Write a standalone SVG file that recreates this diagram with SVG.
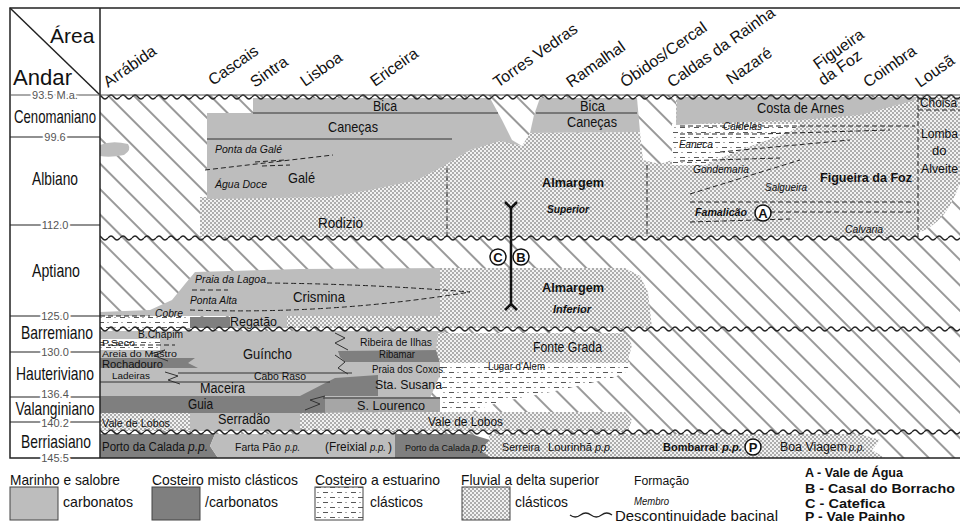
<svg xmlns="http://www.w3.org/2000/svg" width="960" height="523" viewBox="0 0 960 523">
<style>
text{font-family:"Liberation Sans",Arial,sans-serif;fill:#111}
.i{font-style:italic}
.b{font-weight:bold}
.m{text-anchor:middle}
.num{font-size:11px;fill:#555;stroke:#fff;stroke-width:4px;paint-order:stroke;text-anchor:middle}
.stg{font-size:19px;text-anchor:middle}
.area{font-size:16px}
.ln{stroke:#333;stroke-width:1;fill:none}
.dsh{stroke:#222;stroke-width:1;fill:none;stroke-dasharray:5 3}
.lg{fill:#bdbdbd}
.dg{fill:#7f7f7f}
.mg{fill:#a6a6a6}
.dt{fill:url(#dots)}
.es{fill:url(#estu)}
.circ{fill:#fff;stroke:#111;stroke-width:1.5}
</style>
<defs>
<pattern id="hatch" patternUnits="userSpaceOnUse" width="18" height="18" patternTransform="rotate(-45)">
<rect width="18" height="18" fill="#fff"/>
<line x1="9" y1="-1" x2="9" y2="19" stroke="#333" stroke-width="1"/>
</pattern>
<pattern id="dots" patternUnits="userSpaceOnUse" width="4" height="4">
<rect width="4" height="4" fill="#f2f2f2"/>
<circle cx="1" cy="1" r="0.8" fill="#555"/>
<circle cx="3" cy="3" r="0.8" fill="#555"/>
</pattern>
<pattern id="estu" patternUnits="userSpaceOnUse" width="14" height="10">
<rect width="14" height="10" fill="#fff"/>
<path d="M1,2.5h5M8,7.5h5" stroke="#444" stroke-width="0.9"/>
<circle cx="10" cy="2.5" r="0.6" fill="#444"/>
<circle cx="3" cy="7.5" r="0.6" fill="#444"/>
</pattern>
<pattern id="wave" patternUnits="userSpaceOnUse" x="0" y="-4" width="12" height="8">
<path d="M0,4 Q3,0 6,4 T12,4" fill="none" stroke="#222" stroke-width="1.3"/>
</pattern>
<rect id="wv" x="100" y="-4" width="860" height="8" fill="url(#wave)"/>
</defs>

<rect width="960" height="523" fill="#fff"/>

<g id="panel-bg">
<rect x="100" y="95" width="860" height="363" fill="url(#hatch)"/>
</g>

<g id="albian-cenomanian">
<polygon class="dt" points="200,237 200,197 330,196 420,178 470,150 500,140 522,146 530,133 640,132 643,160 660,164 672,160 672,125 676,125 676,97 918,97 918,237"/>
<polygon class="es" points="672,124 800,124 790,132 740,150 705,165 672,165"/>
<path class="dt" d="M918,97 H960 V182 Q948,222 918,233 Z"/>
<polygon class="lg" points="253,98 490,98 502,120 512,140 522,146 500,141 470,150 440,168 417,180 370,190 328,197 207,199 207,113 253,113"/>
<path class="lg" d="M100,145 Q112,140 128,144 Q132,150 124,155 Q110,158 100,156Z"/>
<polygon class="lg" points="540,98 637,98 640,132 530,133 534,115"/>
<polygon class="lg" points="677,97 916,97 916,100 890,107 860,115 800,120 740,122 676,125"/>
<path class="ln" d="M253,113 H498 M536,113 H637 M207,139 H452"/>
<path class="dsh" d="M447,168 V237 M647,165 V237 M918,97 V237 M918,110 H960"/>
<path class="dsh" d="M205,170 L333,155 M255,162 L285,160 M262,166 L290,165"/>
<path class="dsh" d="M680,126 H915 M680,134 L760,134 L890,130 M720,152 L850,140 M680,161 L780,158 M690,194 L800,160 M690,202 H915 M770,212 H915 M690,222 L790,219"/>
<text x="373" y="111" font-size="14" textLength="24" lengthAdjust="spacingAndGlyphs">Bica</text>
<text x="328" y="132" font-size="15" textLength="50" lengthAdjust="spacingAndGlyphs">Caneças</text>
<text x="288" y="183" font-size="15" textLength="27" lengthAdjust="spacingAndGlyphs">Galé</text>
<text x="318" y="228" font-size="15" textLength="45" lengthAdjust="spacingAndGlyphs">Rodizio</text>
<text x="580" y="111" font-size="14" textLength="25" lengthAdjust="spacingAndGlyphs">Bica</text>
<text x="567" y="127" font-size="14" textLength="50" lengthAdjust="spacingAndGlyphs">Caneças</text>
<text x="757" y="113" font-size="14" textLength="87" lengthAdjust="spacingAndGlyphs">Costa de Arnes</text>
<text x="542" y="187" class="b" font-size="13.5" textLength="62" lengthAdjust="spacingAndGlyphs">Almargem</text>
<text x="547" y="213" class="b i" font-size="10.5" textLength="42" lengthAdjust="spacingAndGlyphs">Superior</text>
<text x="820" y="182" class="b" font-size="13" textLength="92" lengthAdjust="spacingAndGlyphs">Figueira da Foz</text>
<text x="215" y="153" class="i" font-size="11" textLength="67" lengthAdjust="spacingAndGlyphs">Ponta da Galé</text>
<text x="215" y="188" class="i" font-size="11" textLength="52" lengthAdjust="spacingAndGlyphs">Água Doce</text>
<text x="723" y="130" class="i" font-size="10.5" textLength="39" lengthAdjust="spacingAndGlyphs">Caldelas</text>
<text x="679" y="148" class="i" font-size="10.5" textLength="34" lengthAdjust="spacingAndGlyphs">Faneca</text>
<text x="693" y="173" class="i" font-size="10.5" textLength="56" lengthAdjust="spacingAndGlyphs">Gondemaria</text>
<text x="765" y="191" class="i" font-size="10.5" textLength="42" lengthAdjust="spacingAndGlyphs">Salgueira</text>
<text x="695" y="216" class="b i" font-size="10.5" textLength="52" lengthAdjust="spacingAndGlyphs">Famalicão</text>
<text x="845" y="233" class="i" font-size="10.5" textLength="38" lengthAdjust="spacingAndGlyphs">Calvaria</text>
<circle class="circ" cx="763" cy="213" r="8"/>
<text x="763" y="218" class="b m" font-size="13">A</text>
<text x="920" y="107" font-size="12" textLength="37" lengthAdjust="spacingAndGlyphs">Choisa</text>
<text x="921" y="138" font-size="12" textLength="37" lengthAdjust="spacingAndGlyphs">Lomba</text>
<text x="932" y="155" font-size="13">do</text>
<text x="921" y="173" font-size="12.5" textLength="37" lengthAdjust="spacingAndGlyphs">Alveite</text>
</g>

<g id="aptian">
<polygon class="lg" points="185,284 195,272 300,269 445,268 445,316 100,316 100,312 150,310 172,300"/>
<polygon class="dt" points="440,268 625,268 640,276 648,292 652,328 287,328 287,316 440,316"/>
<rect class="es" x="100" y="316" width="90" height="12"/>
<rect class="dg" x="190" y="317" width="40" height="11"/>
<rect class="lg" x="230" y="316" width="57" height="12"/>
<path class="dsh" d="M267,283 Q370,284 470,292 M190,310 Q330,315 470,292 M192,290 H228 M100,316 H150"/>
<text x="195" y="283" class="i" font-size="11" textLength="71" lengthAdjust="spacingAndGlyphs">Praia da Lagoa</text>
<text x="190" y="304" class="i" font-size="11" textLength="47" lengthAdjust="spacingAndGlyphs">Ponta Alta</text>
<text x="155" y="317" class="i" font-size="11" textLength="28" lengthAdjust="spacingAndGlyphs">Cobre</text>
<text x="293" y="302" font-size="15" textLength="52" lengthAdjust="spacingAndGlyphs">Crismina</text>
<text x="542" y="292" class="b" font-size="13.5" textLength="62" lengthAdjust="spacingAndGlyphs">Almargem</text>
<text x="553" y="313" class="b i" font-size="11" textLength="38" lengthAdjust="spacingAndGlyphs">Inferior</text>
<text x="230" y="326" font-size="13.5" textLength="47" lengthAdjust="spacingAndGlyphs">Regatão</text>
</g>

<g id="section">
<path d="M511,206 V306" stroke="#111" stroke-width="2.5"/>
<path d="M505,202 L511,208 L517,202 M505,310 L511,304 L517,310" stroke="#111" stroke-width="2.5" fill="none"/>
<circle class="circ" cx="498" cy="257" r="8"/>
<text x="498" y="262" class="b m" font-size="13">C</text>
<circle class="circ" cx="521" cy="257" r="8"/>
<text x="521" y="262" class="b m" font-size="13">B</text>
</g>

<g id="barremian-berriasian">
<polygon class="lg" points="100,331 445,331 440,350 440,375 430,398 100,398"/>
<rect class="es" x="100" y="339" width="60" height="11"/>
<polygon class="dg" points="100,358 195,358 188,363 198,368 100,368"/>
<polygon class="dg" points="338,351 440,350 440,362 345,362 340,357"/>
<polygon class="dg" points="300,396 335,378 378,375 378,396"/>
<polygon class="dt" points="438,333 625,333 632,345 628,360 630,363 440,363 436,350"/>
<polygon class="es" points="440,363 630,363 626,372 612,378 560,390 500,402 470,412 440,412"/>
<polygon class="dg" points="100,396 325,396 325,413 100,413"/>
<polygon class="mg" points="325,397 440,397 440,412 325,413"/>
<rect class="dt" x="100" y="413" width="90" height="18"/>
<rect class="lg" x="190" y="413" width="110" height="18"/>
<polygon class="dt" points="300,413 470,412 625,412 632,420 628,431 300,431"/>
<polygon class="dg" points="100,434 215,434 210,446 218,458 100,458"/>
<polygon class="lg" points="215,434 395,434 395,458 218,458 210,446"/>
<polygon class="dg" points="395,434 470,434 490,440 480,450 492,458 395,458"/>
<polygon class="dt" points="488,434 860,434 880,440 872,450 885,458 492,458 480,450 490,440"/>
<path class="ln" d="M178,373 H352 M100,382 H330 M323,398 H440"/>
<path class="ln" d="M150,354 L165,350 L155,356 L168,361 M165,372 L178,376 L168,380 L180,384 M335,333 L345,338 L335,343 L348,350 M335,355 L345,362 L338,368 L348,374 M305,410 L320,404 L310,400 L325,396"/>
<path class="dsh" d="M100,345 H175"/>
<text x="138" y="338" font-size="10.5" textLength="45" lengthAdjust="spacingAndGlyphs">B.Chapim</text>
<text x="102" y="346" font-size="9.5" textLength="33" lengthAdjust="spacingAndGlyphs">P.Seco</text>
<text x="102" y="357" font-size="9.5" textLength="75" lengthAdjust="spacingAndGlyphs">Areia do Mastro</text>
<text x="102" y="368" font-size="10" textLength="61" lengthAdjust="spacingAndGlyphs">Rochadouro</text>
<text x="112" y="379" font-size="9.5" textLength="38" lengthAdjust="spacingAndGlyphs">Ladeiras</text>
<text x="243" y="359" font-size="15" textLength="49" lengthAdjust="spacingAndGlyphs">Guíncho</text>
<text x="254" y="380" font-size="10.5" textLength="52" lengthAdjust="spacingAndGlyphs">Cabo Raso</text>
<text x="200" y="393" font-size="14" textLength="45" lengthAdjust="spacingAndGlyphs">Maceira</text>
<text x="188" y="409" font-size="14" textLength="25" lengthAdjust="spacingAndGlyphs">Guia</text>
<text x="218" y="424" font-size="14" textLength="52" lengthAdjust="spacingAndGlyphs">Serradão</text>
<text x="102" y="427" font-size="10.5" textLength="68" lengthAdjust="spacingAndGlyphs">Vale de Lobos</text>
<text x="360" y="346" font-size="10.5" textLength="72" lengthAdjust="spacingAndGlyphs">Ribeira de Ilhas</text>
<text x="379" y="358" font-size="10" textLength="36" lengthAdjust="spacingAndGlyphs">Ribamar</text>
<text x="372" y="373" font-size="10" textLength="71" lengthAdjust="spacingAndGlyphs">Praia dos Coxos</text>
<text x="375" y="389" font-size="13.5" textLength="67" lengthAdjust="spacingAndGlyphs">Sta. Susana</text>
<text x="357" y="410" font-size="13.5" textLength="68" lengthAdjust="spacingAndGlyphs">S. Lourenco</text>
<text x="533" y="352" font-size="14" textLength="69" lengthAdjust="spacingAndGlyphs">Fonte Grada</text>
<text x="488" y="370" font-size="10" textLength="57" lengthAdjust="spacingAndGlyphs">Lugar d'Alem</text>
<text x="428" y="426" font-size="13" textLength="75" lengthAdjust="spacingAndGlyphs">Vale de Lobos</text>
<text x="102" y="451" font-size="12.5" textLength="83" lengthAdjust="spacingAndGlyphs">Porto da Calada</text>
<text x="188" y="451" class="i" font-size="12" textLength="20" lengthAdjust="spacingAndGlyphs">p.p.</text>
<text x="235" y="451" font-size="11" textLength="46" lengthAdjust="spacingAndGlyphs">Farta Pão</text>
<text x="285" y="451" class="i" font-size="10.5" textLength="15" lengthAdjust="spacingAndGlyphs">p.p.</text>
<text x="325" y="451" font-size="12" textLength="42" lengthAdjust="spacingAndGlyphs">(Freixial</text>
<text x="370" y="451" class="i" font-size="10.5" textLength="16" lengthAdjust="spacingAndGlyphs">p.p.</text>
<text x="388" y="451" font-size="12">)</text>
<text x="405" y="451" font-size="9.5" textLength="65" lengthAdjust="spacingAndGlyphs">Porto da Calada</text>
<text x="472" y="451" class="i" font-size="10" textLength="17" lengthAdjust="spacingAndGlyphs">p.p.</text>
<text x="502" y="451" font-size="11.5" textLength="38" lengthAdjust="spacingAndGlyphs">Serreira</text>
<text x="548" y="451" font-size="11.3" textLength="44" lengthAdjust="spacingAndGlyphs">Lourinhã</text>
<text x="595" y="451" class="i" font-size="11" textLength="18" lengthAdjust="spacingAndGlyphs">p.p.</text>
<text x="663" y="451" class="b" font-size="11" textLength="55" lengthAdjust="spacingAndGlyphs">Bombarral</text>
<text x="722" y="451" class="b i" font-size="11" textLength="20" lengthAdjust="spacingAndGlyphs">p.p.</text>
<circle class="circ" cx="753" cy="447" r="8"/>
<text x="753" y="452" class="b m" font-size="13">P</text>
<text x="780" y="451" font-size="12" textLength="67" lengthAdjust="spacingAndGlyphs">Boa Viagem</text>
<text x="849" y="451" class="i" font-size="10" textLength="16" lengthAdjust="spacingAndGlyphs">p.p.</text>
</g>

<g id="discontinuities">
<use href="#wv" transform="translate(0,97)"/>
<use href="#wv" transform="translate(0,238)"/>
<use href="#wv" transform="translate(0,329)"/>
<use href="#wv" transform="translate(0,432)"/>
</g>

<g id="frame">
<rect x="10" y="8" width="952" height="450" fill="none" stroke="#222" stroke-width="1.5"/>
<path d="M100,8 V458" stroke="#222" stroke-width="1.5"/>
<path d="M10,8 L100,95" stroke="#222" stroke-width="1.5"/>
<path d="M10,95 H960" stroke="#555" stroke-width="1"/>
<path d="M10,137 H100 M10,225 H100 M10,316 H100 M10,352 H100 M10,397 H100 M10,422 H100" stroke="#222" stroke-width="1.2"/>
</g>

<g id="header">
<text x="50" y="43" font-size="21">Área</text>
<text x="13" y="85" font-size="22" textLength="59" lengthAdjust="spacingAndGlyphs">Andar</text>
<text class="area" transform="translate(108,88) rotate(-35)">Arrábida</text>
<text class="area" transform="translate(213,86) rotate(-35)">Cascais</text>
<text class="area" transform="translate(255,88) rotate(-35)">Sintra</text>
<text class="area" transform="translate(305,87) rotate(-35)">Lisboa</text>
<text class="area" transform="translate(375,87) rotate(-35)">Ericeira</text>
<text class="area" transform="translate(498,88) rotate(-35)">Torres Vedras</text>
<text class="area" transform="translate(571,88) rotate(-35)">Ramalhal</text>
<text class="area" transform="translate(625,88) rotate(-35)">Óbidos/Cercal</text>
<text class="area" transform="translate(672,88) rotate(-35)" font-size="15.5">Caldas da Rainha</text>
<text class="area" transform="translate(731,85) rotate(-35)">Nazaré</text>
<text class="area" transform="translate(818,70) rotate(-35)">Figueira</text>
<text class="area" transform="translate(823,86) rotate(-35)">da Foz</text>
<text class="area" transform="translate(868,88) rotate(-35)">Coimbra</text>
<text class="area" transform="translate(920,88) rotate(-35)">Lousã</text>
</g>

<g id="stages">
<text class="num" x="55" y="99">93.5 M.a.</text>
<text class="num" x="55" y="141">99.6</text>
<text class="num" x="55" y="229">112.0</text>
<text class="num" x="55" y="320">125.0</text>
<text class="num" x="55" y="356">130.0</text>
<text class="num" x="55" y="397.5" font-size="10.5">136.4</text>
<text class="num" x="55" y="427">140.2</text>
<text class="num" x="55" y="462">145.5</text>
<text class="stg" x="55" y="123" textLength="82" lengthAdjust="spacingAndGlyphs">Cenomaniano</text>
<text class="stg" x="55" y="185" textLength="46" lengthAdjust="spacingAndGlyphs">Albiano</text>
<text class="stg" x="56" y="277" textLength="48" lengthAdjust="spacingAndGlyphs">Aptiano</text>
<text class="stg" x="57" y="339" font-size="16" textLength="72" lengthAdjust="spacingAndGlyphs">Barremiano</text>
<text class="stg" x="55" y="380" font-size="15" textLength="78" lengthAdjust="spacingAndGlyphs">Hauteriviano</text>
<text class="stg" x="55" y="415" font-size="15" textLength="79" lengthAdjust="spacingAndGlyphs">Valanginiano</text>
<text class="stg" x="56" y="448" font-size="16" textLength="70" lengthAdjust="spacingAndGlyphs">Berriasiano</text>
</g>

<g id="legend">
<text x="10" y="485" font-size="15" textLength="110" lengthAdjust="spacingAndGlyphs">Marinho e salobre</text>
<rect class="lg" x="10" y="487" width="48" height="33" stroke="#444"/>
<text x="63" y="507" font-size="15" textLength="70" lengthAdjust="spacingAndGlyphs">carbonatos</text>
<text x="152" y="485" font-size="15" textLength="146" lengthAdjust="spacingAndGlyphs">Costeiro misto clásticos</text>
<rect class="dg" x="152" y="487" width="48" height="33" stroke="#444"/>
<text x="205" y="507" font-size="15" textLength="73" lengthAdjust="spacingAndGlyphs">/carbonatos</text>
<text x="315" y="485" font-size="15" textLength="125" lengthAdjust="spacingAndGlyphs">Costeiro a estuarino</text>
<rect class="es" x="315" y="487" width="48" height="33" stroke="#444"/>
<text x="370" y="507" font-size="15" textLength="53" lengthAdjust="spacingAndGlyphs">clásticos</text>
<text x="461" y="485" font-size="15" textLength="138" lengthAdjust="spacingAndGlyphs">Fluvial a delta superior</text>
<rect class="dt" x="462" y="487" width="48" height="33" stroke="#444"/>
<text x="515" y="507" font-size="15" textLength="53" lengthAdjust="spacingAndGlyphs">clásticos</text>
<text x="634" y="485" font-size="12" textLength="55" lengthAdjust="spacingAndGlyphs">Formação</text>
<text x="634" y="505" class="i" font-size="10" textLength="35" lengthAdjust="spacingAndGlyphs">Membro</text>
<path d="M570,515 q5.25,4 10.5,0 t10.5,0 t10.5,0 t10.5,0" fill="none" stroke="#222" stroke-width="1.3"/>
<text x="615" y="521" font-size="15" textLength="163" lengthAdjust="spacingAndGlyphs">Descontinuidade bacinal</text>
<text x="805" y="477" class="b" font-size="13.3" textLength="98" lengthAdjust="spacingAndGlyphs">A - Vale de Água</text>
<text x="805" y="493" class="b" font-size="13.3" textLength="150" lengthAdjust="spacingAndGlyphs">B - Casal do Borracho</text>
<text x="805" y="508" class="b" font-size="13.3" textLength="80" lengthAdjust="spacingAndGlyphs">C - Catefica</text>
<text x="805" y="521" class="b" font-size="13.3" textLength="100" lengthAdjust="spacingAndGlyphs">P - Vale Painho</text>
</g>
</svg>
